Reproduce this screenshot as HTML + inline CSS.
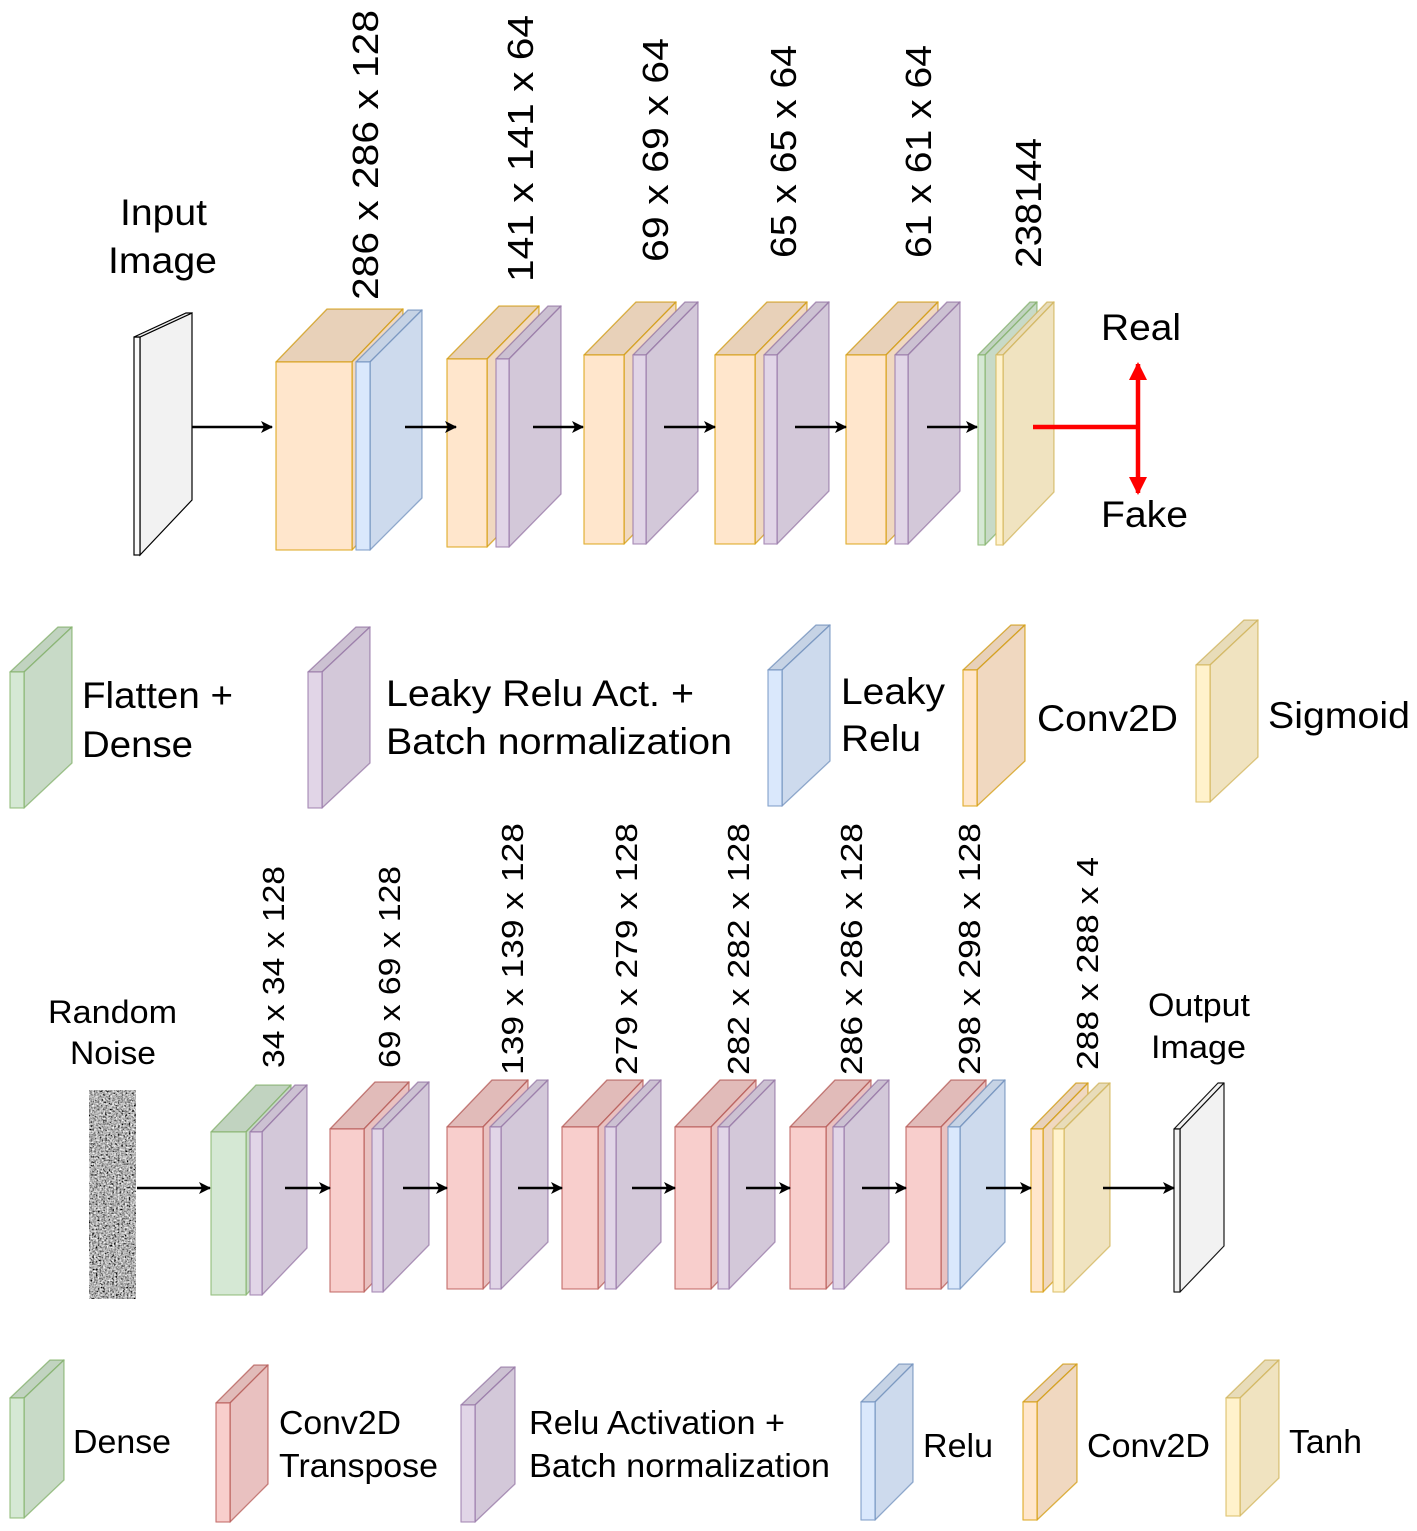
<!DOCTYPE html>
<html><head><meta charset="utf-8"><style>
html,body{margin:0;padding:0;background:#fff;}
svg{display:block;}
text{font-family:"Liberation Sans",Arial,sans-serif;fill:#000;}
</style></head><body>
<svg id="s" width="1417" height="1531" viewBox="0 0 1417 1531" xmlns="http://www.w3.org/2000/svg">
<defs>
<marker id="ah" markerWidth="12" markerHeight="12" refX="11" refY="6" orient="auto" markerUnits="userSpaceOnUse"><path d="M0,0 L12,6 L0,12 L3,6 z" fill="#000"/></marker>
<marker id="rh" markerWidth="18" markerHeight="18" refX="16" refY="9" orient="auto" markerUnits="userSpaceOnUse"><path d="M0,0 L18,9 L0,18 z" fill="#f00"/></marker>
<filter id="nz" x="0" y="0" width="100%" height="100%"><feTurbulence type="fractalNoise" baseFrequency="0.55" numOctaves="2" seed="3"/><feColorMatrix type="matrix" values="0.33 0.33 0.33 0 0  0.33 0.33 0.33 0 0  0.33 0.33 0.33 0 0  0 0 0 0 1"/><feComponentTransfer><feFuncR type="linear" slope="3" intercept="-1.05"/><feFuncG type="linear" slope="3" intercept="-1.05"/><feFuncB type="linear" slope="3" intercept="-1.05"/></feComponentTransfer></filter>
</defs>
<g id="shapes"></g>
<rect x="89" y="1090" width="47" height="209" filter="url(#nz)"/>
<g stroke="#000" stroke-width="2.4" fill="none">
<line x1="192" y1="427" x2="272" y2="427" marker-end="url(#ah)"/>
<line x1="405" y1="427" x2="456" y2="427" marker-end="url(#ah)"/>
<line x1="533" y1="427" x2="583" y2="427" marker-end="url(#ah)"/>
<line x1="664" y1="427" x2="715" y2="427" marker-end="url(#ah)"/>
<line x1="795" y1="427" x2="846" y2="427" marker-end="url(#ah)"/>
<line x1="927" y1="427" x2="977" y2="427" marker-end="url(#ah)"/>
<line x1="137" y1="1188" x2="210" y2="1188" marker-end="url(#ah)"/>
<line x1="285" y1="1188" x2="330" y2="1188" marker-end="url(#ah)"/>
<line x1="403" y1="1188" x2="447" y2="1188" marker-end="url(#ah)"/>
<line x1="518" y1="1188" x2="562" y2="1188" marker-end="url(#ah)"/>
<line x1="632" y1="1188" x2="675" y2="1188" marker-end="url(#ah)"/>
<line x1="746" y1="1188" x2="790" y2="1188" marker-end="url(#ah)"/>
<line x1="862" y1="1188" x2="906" y2="1188" marker-end="url(#ah)"/>
<line x1="986" y1="1188" x2="1031" y2="1188" marker-end="url(#ah)"/>
<line x1="1103" y1="1188" x2="1174" y2="1188" marker-end="url(#ah)"/>
</g>
<g stroke="#f00" stroke-width="4.5" fill="none">
<line x1="1033" y1="427" x2="1138" y2="427"/>
<line x1="1138" y1="427" x2="1138" y2="364" marker-end="url(#rh)"/>
<line x1="1138" y1="427" x2="1138" y2="493" marker-end="url(#rh)"/>
</g>
<g font-size="36" lengthAdjust="spacingAndGlyphs">
<text transform="translate(378,300) rotate(-90)" textLength="290" lengthAdjust="spacingAndGlyphs">286 x 286  x 128</text>
<text transform="translate(533,282) rotate(-90)" textLength="267" lengthAdjust="spacingAndGlyphs">141 x 141  x 64</text>
<text transform="translate(668,262) rotate(-90)" textLength="224" lengthAdjust="spacingAndGlyphs">69 x 69  x 64</text>
<text transform="translate(796,258) rotate(-90)" textLength="213" lengthAdjust="spacingAndGlyphs">65 x 65 x 64</text>
<text transform="translate(931,258) rotate(-90)" textLength="213" lengthAdjust="spacingAndGlyphs">61 x 61 x 64</text>
<text transform="translate(1041,268) rotate(-90)" textLength="130" lengthAdjust="spacingAndGlyphs">238144</text>
</g>
<g font-size="37">
<text x="120" y="225" textLength="87" lengthAdjust="spacingAndGlyphs">Input</text>
<text x="108" y="273" textLength="109" lengthAdjust="spacingAndGlyphs">Image</text>
<text x="1101" y="340" textLength="80" lengthAdjust="spacingAndGlyphs">Real</text>
<text x="1101" y="527" textLength="87" lengthAdjust="spacingAndGlyphs">Fake</text>
</g>
<g font-size="37">
<text x="82" y="708" textLength="151" lengthAdjust="spacingAndGlyphs">Flatten +</text>
<text x="82" y="757" textLength="111" lengthAdjust="spacingAndGlyphs">Dense</text>
<text x="386" y="706" textLength="308" lengthAdjust="spacingAndGlyphs">Leaky Relu Act. +</text>
<text x="386" y="754" textLength="346" lengthAdjust="spacingAndGlyphs">Batch normalization</text>
<text x="841" y="704" textLength="104" lengthAdjust="spacingAndGlyphs">Leaky</text>
<text x="841" y="751" textLength="80" lengthAdjust="spacingAndGlyphs">Relu</text>
<text x="1037" y="731" textLength="141" lengthAdjust="spacingAndGlyphs">Conv2D</text>
<text x="1268" y="728" textLength="142" lengthAdjust="spacingAndGlyphs">Sigmoid</text>
</g>
<g font-size="31">
<text transform="translate(284,1068) rotate(-90)" textLength="202" lengthAdjust="spacingAndGlyphs">34 x 34 x 128</text>
<text transform="translate(400,1068) rotate(-90)" textLength="202" lengthAdjust="spacingAndGlyphs">69 x 69 x 128</text>
<text transform="translate(523,1075) rotate(-90)" textLength="252" lengthAdjust="spacingAndGlyphs">139 x 139  x 128</text>
<text transform="translate(637,1075) rotate(-90)" textLength="252" lengthAdjust="spacingAndGlyphs">279 x 279  x 128</text>
<text transform="translate(749,1075) rotate(-90)" textLength="252" lengthAdjust="spacingAndGlyphs">282 x 282  x 128</text>
<text transform="translate(862,1075) rotate(-90)" textLength="252" lengthAdjust="spacingAndGlyphs">286 x 286  x 128</text>
<text transform="translate(980,1075) rotate(-90)" textLength="252" lengthAdjust="spacingAndGlyphs">298 x 298  x 128</text>
<text transform="translate(1098,1070) rotate(-90)" textLength="213" lengthAdjust="spacingAndGlyphs">288 x 288  x 4</text>
</g>
<g font-size="32">
<text x="48" y="1023" textLength="129" lengthAdjust="spacingAndGlyphs">Random</text>
<text x="70" y="1064" textLength="86" lengthAdjust="spacingAndGlyphs">Noise</text>
<text x="1148" y="1016" textLength="102" lengthAdjust="spacingAndGlyphs">Output</text>
<text x="1151" y="1058" textLength="95" lengthAdjust="spacingAndGlyphs">Image</text>
</g>
<g font-size="33">
<text x="73" y="1453" textLength="98" lengthAdjust="spacingAndGlyphs">Dense</text>
<text x="279" y="1434" textLength="122" lengthAdjust="spacingAndGlyphs">Conv2D</text>
<text x="279" y="1477" textLength="159" lengthAdjust="spacingAndGlyphs">Transpose</text>
<text x="529" y="1434" textLength="256" lengthAdjust="spacingAndGlyphs">Relu Activation +</text>
<text x="529" y="1477" textLength="301" lengthAdjust="spacingAndGlyphs">Batch normalization</text>
<text x="923" y="1457" textLength="70" lengthAdjust="spacingAndGlyphs">Relu</text>
<text x="1087" y="1457" textLength="123" lengthAdjust="spacingAndGlyphs">Conv2D</text>
<text x="1289" y="1453" textLength="73" lengthAdjust="spacingAndGlyphs">Tanh</text>
</g>
</svg>
<script>
var C={o:["#ffe6cc","#d79b00"],b:["#dae8fc","#6c8ebf"],p:["#e1d5e7","#9673a6"],g:["#d5e8d4","#82b366"],r:["#f8cecc","#b85450"],y:["#fff2cc","#d6b656"],w:["#f2f2f2","#000000"]};
var out="";
function box(c,x,y,w,h,dx,dy){
 var f=C[c][0],s=C[c][1],sw=(c=="w")?1.2:1.3,so=(c=="w")?0.9:0.7;
 out+='<g stroke="'+s+'" stroke-width="'+sw+'" stroke-opacity="'+so+'" stroke-linejoin="round">';
 out+='<polygon points="'+x+','+y+' '+(x+dx)+','+(y-dy)+' '+(x+w+dx)+','+(y-dy)+' '+(x+w)+','+y+'" fill="'+f+'"/>';
 out+='<polygon points="'+x+','+y+' '+(x+dx)+','+(y-dy)+' '+(x+w+dx)+','+(y-dy)+' '+(x+w)+','+y+'" fill="#000" fill-opacity="'+(c=="w"?0:0.09)+'" stroke="none"/>';
 out+='<polygon points="'+(x+w)+','+y+' '+(x+w+dx)+','+(y-dy)+' '+(x+w+dx)+','+(y+h-dy)+' '+(x+w)+','+(y+h)+'" fill="'+f+'"/>';
 out+='<polygon points="'+(x+w)+','+y+' '+(x+w+dx)+','+(y-dy)+' '+(x+w+dx)+','+(y+h-dy)+' '+(x+w)+','+(y+h)+'" fill="#000" fill-opacity="'+(c=="w"?0:0.06)+'" stroke="none"/>';
 out+='<rect x="'+x+'" y="'+y+'" width="'+w+'" height="'+h+'" fill="'+f+'"/></g>';
}
out+='<g stroke="#000" stroke-width="1.2"><polygon points="140,337 192,313 192,500 140,555" fill="#f2f2f2"/><rect x="134" y="337" width="6" height="218" fill="#fafafa"/><polygon points="134,337 186,313 192,313 140,337" fill="#eee"/></g>';
box("o",276,362,76,188,51,53);box("b",356,362,14,188,52,52);
box("o",447,359,40,188,52,53);box("p",496,359,13,188,52,53);
box("o",584,355,40,189,52,53);box("p",633,355,13,189,52,53);
box("o",715,355,40,189,52,53);box("p",764,355,13,189,52,53);
box("o",846,355,40,189,52,53);box("p",895,355,13,189,52,53);
box("g",978,355,7,190,52,53);box("y",996,355,7,190,51,53);
box("g",10,672,14,136,48,45);
box("p",308,672,14,136,48,45);
box("b",768,670,14,136,48,45);
box("o",963,670,14,136,48,45);
box("y",1196,665,14,137,48,45);
box("g",211,1132,35,163,45,47);box("p",250,1132,12,163,45,47);
box("r",330,1129,34,163,45,47);box("p",372,1129,11,163,46,47);
box("r",447,1127,36,162,45,47);box("p",490,1127,11,162,47,47);
box("r",562,1127,36,162,45,47);box("p",605,1127,11,162,45,47);
box("r",675,1127,36,162,45,47);box("p",718,1127,11,162,46,47);
box("r",790,1127,36,162,45,47);box("p",833,1127,11,162,45,47);
box("r",906,1127,35,162,45,47);box("b",948,1127,12,162,45,47);
box("o",1031,1129,12,163,45,46);box("y",1053,1129,11,163,46,46);
box("w",1174,1129,6,163,44,46);
box("g",10,1398,14,120,40,38);
box("r",216,1403,14,119,38,38);
box("p",461,1405,14,117,40,38);
box("b",861,1402,14,118,38,38);
box("o",1023,1402,14,118,40,38);
box("y",1226,1398,14,118,39,38);
document.getElementById("shapes").innerHTML=out;
</script>
</body></html>
